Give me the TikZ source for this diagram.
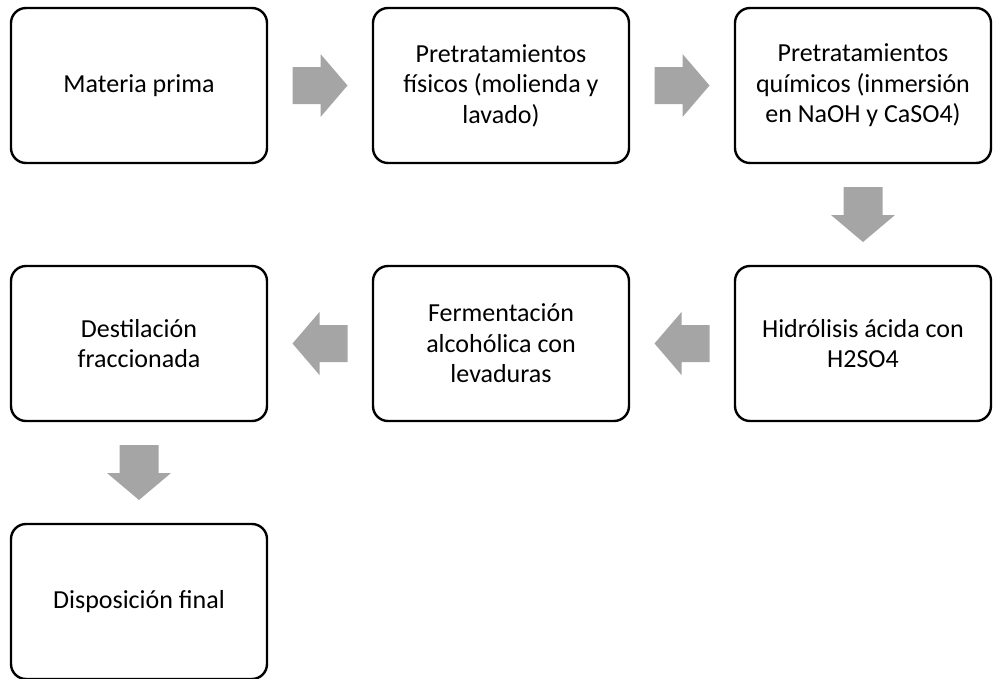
\documentclass[tikz,border=0pt]{standalone}
\usepackage{fontspec}
\setmainfont{Carlito}
\usetikzlibrary{calc}
\begin{document}
\begin{tikzpicture}[x=1pt,y=-1pt,
  stepbox/.style={draw=black,line width=2.4pt,rounded corners=15pt,
    minimum width=256pt,minimum height=155pt,align=center,inner sep=0pt,
    font=\fontsize{26}{30.5}\selectfont},
  flow/.style={fill=arrowgrey,draw=none}]
\definecolor{arrowgrey}{HTML}{A5A5A5}
\useasboundingbox (0,0) rectangle (999,678);
% process steps, in reading order
\node[stepbox] (s1) at (139,85.5) {Materia prima};
\node[stepbox] (s2) at (501,85.5) {Pretratamientos\\físicos (molienda y\\lavado)};
\node[stepbox] (s3) at (863,85.5) {Pretratamientos\\químicos (inmersión\\en NaOH y CaSO4)};
\node[stepbox] (s4) at (863,343.5) {Hidrólisis ácida con\\H2SO4};
\node[stepbox] (s5) at (501,343.5) {Fermentación\\alcohólica con\\levaduras};
\node[stepbox] (s6) at (139,343.5) {Destilación\\fraccionada};
\node[stepbox] (s7) at (139,601.5) {Disposición final};
% block arrows between steps
\newcommand{\rightblock}[1]{\fill[flow] ($(#1)+(-27.5,-18.5)$) -- ++(28,0) -- ++(0,-13) -- ++(27,31.5) -- ++(-27,31.5) -- ++(0,-13) -- ++(-28,0) -- cycle;}
\newcommand{\leftblock}[1]{\fill[flow] ($(#1)+(27.5,-18.5)$) -- ++(-28,0) -- ++(0,-13) -- ++(-27,31.5) -- ++(27,31.5) -- ++(0,-13) -- ++(28,0) -- cycle;}
\newcommand{\downblock}[1]{\fill[flow] ($(#1)+(-19.5,-27.5)$) -- ++(0,28) -- ++(-12.5,0) -- ++(32,27) -- ++(32,-27) -- ++(-12.5,0) -- ++(0,-28) -- cycle;}
\path ($(s1.east)!0.5!(s2.west)$) coordinate (a12)
      ($(s2.east)!0.5!(s3.west)$) coordinate (a23)
      ($(s3.south)!0.5!(s4.north)$) coordinate (a34)
      ($(s4.west)!0.5!(s5.east)$) coordinate (a45)
      ($(s5.west)!0.5!(s6.east)$) coordinate (a56)
      ($(s6.south)!0.5!(s7.north)$) coordinate (a67);
\rightblock{a12}
\rightblock{a23}
\downblock{a34}
\leftblock{a45}
\leftblock{a56}
\downblock{a67}
\end{tikzpicture}
\end{document}
